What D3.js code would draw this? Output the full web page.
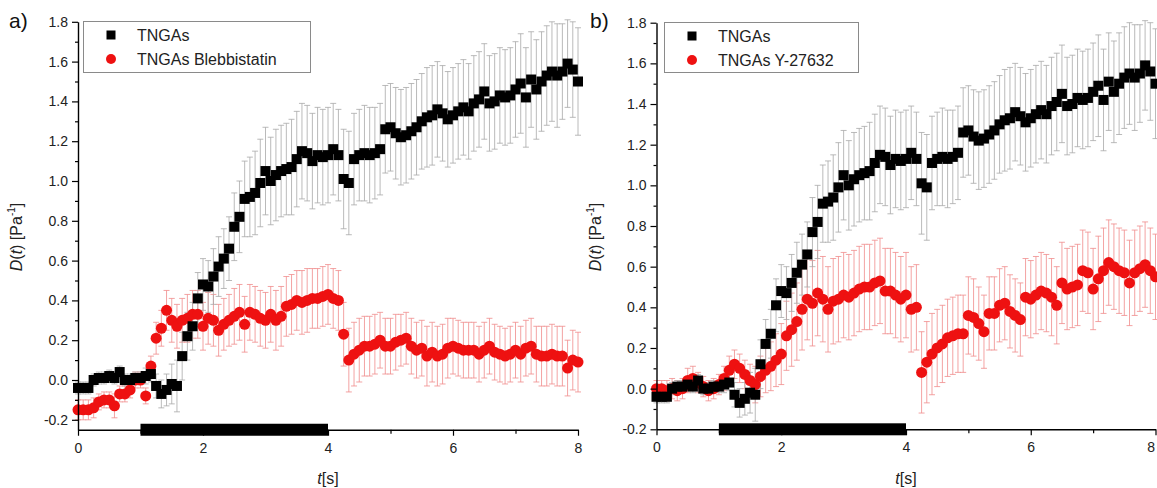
<!DOCTYPE html>
<html>
<head>
<meta charset="utf-8">
<script src="https://cdn.jsdelivr.net/npm/d3@7"></script>
<style>
  body { margin: 0; background: #fff; }
  svg { display: block; }
  text { font-family: "Liberation Sans", Arial, sans-serif; }
</style>
</head>
<body>
<svg id="chart" width="1157" height="488"></svg>
<script>
// Sampling interval of the recordings (s)
const frameStep = 1 / 12;

// Untreated TNGAs, D(t) [1/Pa] and standard error
const tngas = [
  -0.04, -0.04, -0.04, 0.00, 0.01, 0.01, 0.02, 0.01, 0.04, 0.00,
  0.00, 0.01, 0.01, 0.02, 0.03, -0.03, -0.07, -0.05, -0.02, -0.03,
  0.12, 0.22, 0.27, 0.41, 0.48, 0.47, 0.52, 0.57, 0.61, 0.66,
  0.77, 0.82, 0.91, 0.92, 0.94, 0.99, 1.05, 1.00, 1.03, 1.05,
  1.06, 1.07, 1.11, 1.15, 1.14, 1.10, 1.13, 1.12, 1.13, 1.16,
  1.13, 1.01, 0.99, 1.11, 1.13, 1.14, 1.13, 1.14, 1.16, 1.26,
  1.27, 1.24, 1.22, 1.23, 1.25, 1.27, 1.30, 1.32, 1.33, 1.36,
  1.34, 1.31, 1.33, 1.35, 1.37, 1.35, 1.39, 1.41, 1.45, 1.39,
  1.40, 1.43, 1.42, 1.43, 1.46, 1.49, 1.42, 1.51, 1.46, 1.50,
  1.53, 1.55, 1.53, 1.55, 1.59, 1.56, 1.50
];
const tngasErr = [
  0.03, 0.03, 0.03, 0.03, 0.03, 0.03, 0.03, 0.03, 0.03, 0.03,
  0.03, 0.03, 0.03, 0.04, 0.04, 0.06, 0.07, 0.08, 0.10, 0.13,
  0.12, 0.12, 0.12, 0.13, 0.13, 0.13, 0.14, 0.15, 0.15, 0.16,
  0.17, 0.18, 0.19, 0.20, 0.21, 0.22, 0.22, 0.22, 0.23, 0.23,
  0.23, 0.24, 0.24, 0.24, 0.24, 0.24, 0.24, 0.24, 0.24, 0.23,
  0.23, 0.25, 0.26, 0.23, 0.23, 0.24, 0.24, 0.23, 0.23, 0.22,
  0.22, 0.23, 0.24, 0.24, 0.24, 0.24, 0.24, 0.25, 0.25, 0.24,
  0.24, 0.24, 0.24, 0.24, 0.24, 0.24, 0.24, 0.24, 0.24, 0.24,
  0.24, 0.24, 0.24, 0.24, 0.24, 0.25, 0.25, 0.24, 0.25, 0.25,
  0.25, 0.25, 0.26, 0.24, 0.22, 0.24, 0.27
];

// TNGAs treated with Blebbistatin
const blebbistatin = [
  -0.15, -0.15, -0.15, -0.14, -0.11, -0.10, -0.10, -0.13, -0.07, -0.07,
  -0.05, 0.00, 0.00, -0.08, 0.07, 0.21, 0.26, 0.35, 0.30, 0.27,
  0.30, 0.31, 0.33, 0.33, 0.27, 0.31, 0.30, 0.25, 0.28, 0.30,
  0.32, 0.34, 0.28, 0.34, 0.33, 0.31, 0.30, 0.33, 0.30, 0.32,
  0.37, 0.38, 0.40, 0.39, 0.40, 0.41, 0.41, 0.42, 0.43, 0.41,
  0.40, 0.23, 0.10, 0.13, 0.15, 0.17, 0.17, 0.18, 0.20, 0.17,
  0.17, 0.19, 0.20, 0.21, 0.17, 0.15, 0.16, 0.12, 0.14, 0.12,
  0.13, 0.16, 0.17, 0.16, 0.15, 0.15, 0.15, 0.13, 0.15, 0.17,
  0.14, 0.13, 0.12, 0.13, 0.15, 0.13, 0.16, 0.17, 0.13, 0.12,
  0.12, 0.13, 0.12, 0.12, 0.06, 0.10, 0.09
];
const blebbistatinErr = [
  0.05, 0.05, 0.05, 0.05, 0.04, 0.04, 0.04, 0.06, 0.04, 0.04,
  0.04, 0.04, 0.04, 0.04, 0.05, 0.08, 0.09, 0.10, 0.11, 0.11,
  0.11, 0.12, 0.12, 0.12, 0.12, 0.13, 0.13, 0.13, 0.13, 0.13,
  0.14, 0.14, 0.14, 0.14, 0.14, 0.14, 0.14, 0.14, 0.15, 0.15,
  0.15, 0.15, 0.15, 0.16, 0.16, 0.15, 0.15, 0.15, 0.15, 0.15,
  0.15, 0.16, 0.16, 0.16, 0.16, 0.15, 0.15, 0.15, 0.14, 0.14,
  0.14, 0.14, 0.13, 0.13, 0.14, 0.14, 0.14, 0.15, 0.15, 0.15,
  0.15, 0.15, 0.14, 0.14, 0.14, 0.14, 0.14, 0.14, 0.14, 0.14,
  0.14, 0.14, 0.14, 0.14, 0.14, 0.14, 0.14, 0.14, 0.14, 0.15,
  0.15, 0.15, 0.15, 0.15, 0.14, 0.15, 0.15
];

// TNGAs treated with Y-27632
const y27632 = [
  0.00, 0.00, -0.01, 0.00, -0.01, 0.00, 0.04, 0.05, 0.03, 0.01,
  -0.01, 0.00, 0.02, 0.05, 0.09, 0.12, 0.10, 0.07, 0.04, 0.02,
  0.06, 0.09, 0.11, 0.14, 0.17, 0.26, 0.29, 0.33, 0.39, 0.44,
  0.42, 0.47, 0.44, 0.39, 0.43, 0.44, 0.46, 0.45, 0.47, 0.49,
  0.50, 0.50, 0.52, 0.53, 0.48, 0.48, 0.46, 0.44, 0.46, 0.39,
  0.40, 0.08, 0.13, 0.17, 0.20, 0.22, 0.25, 0.26, 0.27, 0.27,
  0.36, 0.35, 0.32, 0.28, 0.37, 0.37, 0.41, 0.42, 0.38, 0.36,
  0.34, 0.45, 0.44, 0.46, 0.48, 0.47, 0.45, 0.41, 0.52, 0.49,
  0.50, 0.51, 0.58, 0.57, 0.49, 0.54, 0.58, 0.62, 0.60, 0.58,
  0.57, 0.52, 0.57, 0.59, 0.61, 0.58, 0.55
];
const y27632Err = [
  0.04, 0.04, 0.05, 0.05, 0.05, 0.05, 0.06, 0.06, 0.05, 0.05,
  0.05, 0.05, 0.05, 0.06, 0.07, 0.07, 0.07, 0.07, 0.08, 0.09,
  0.10, 0.11, 0.12, 0.13, 0.15, 0.17, 0.18, 0.19, 0.20, 0.20,
  0.21, 0.21, 0.21, 0.21, 0.21, 0.21, 0.21, 0.21, 0.21, 0.21,
  0.21, 0.21, 0.21, 0.21, 0.21, 0.21, 0.21, 0.21, 0.21, 0.21,
  0.21, 0.20, 0.20, 0.20, 0.19, 0.19, 0.19, 0.19, 0.19, 0.19,
  0.19, 0.19, 0.18, 0.18, 0.18, 0.18, 0.18, 0.18, 0.18, 0.18,
  0.18, 0.19, 0.19, 0.19, 0.19, 0.19, 0.19, 0.19, 0.20, 0.20,
  0.20, 0.20, 0.20, 0.20, 0.20, 0.21, 0.21, 0.21, 0.21, 0.21,
  0.21, 0.21, 0.21, 0.21, 0.21, 0.21, 0.21
];

// Axis ticks and the stimulus interval (s)
const xTicks = [0, 2, 4, 6, 8];
const xMinorTicks = [1, 3, 5, 7];
const yTicks = [-0.2, 0, 0.2, 0.4, 0.6, 0.8, 1.0, 1.2, 1.4, 1.6, 1.8];
const yMinorTicks = [-0.1, 0.1, 0.3, 0.5, 0.7, 0.9, 1.1, 1.3, 1.5, 1.7];
const stimulus = [1, 4];

const svg = d3.select("#chart");
const timeOf = i => i * frameStep;

const panels = [
  {
    tag: "a)", tagX: 9,
    xRange: [78, 578], yRange: [429.75, 21.8], yDomain: [-0.25, 1.8],
    treated: blebbistatin, treatedErr: blebbistatinErr,
    legend: ["TNGAs", "TNGAs Blebbistatin"],
    legendBox: [83, 21, 227, 51]
  },
  {
    tag: "b)", tagX: 590,
    xRange: [656.5, 1155.5], yRange: [429.3, 22.7], yDomain: [-0.2, 1.8],
    treated: y27632, treatedErr: y27632Err,
    legend: ["TNGAs", "TNGAs Y-27632"],
    legendBox: [664, 22, 194, 50]
  }
];

const RED = "#ee1111";
const RED_BAR = "#f08c8c";
const GREY_BAR = "#a8a8a8";

function errorBars(g, x, y, values, errs, color) {
  g.append("g")
    .attr("fill", "none")
    .attr("stroke", color)
    .attr("stroke-width", 0.8)
    .selectAll("path")
    .data(values.map((v, i) => ({ t: timeOf(i), v, e: errs[i] })))
    .join("path")
    .attr("d", d => {
      const cx = x(d.t), yt = y(d.v + d.e), yb = y(d.v - d.e);
      return `M${cx},${yb}V${yt}M${cx - 3},${yt}h6M${cx - 3},${yb}h6`;
    });
}

panels.forEach(p => {
  const x = d3.scaleLinear([0, 8], p.xRange);
  const y = d3.scaleLinear(p.yDomain, p.yRange);
  const g = svg.append("g");

  // error bars
  errorBars(g, x, y, p.treated, p.treatedErr, RED_BAR);
  errorBars(g, x, y, tngas, tngasErr, GREY_BAR);

  // markers
  g.append("g").attr("fill", RED)
    .selectAll("circle")
    .data(p.treated)
    .join("circle")
    .attr("cx", (v, i) => x(timeOf(i)))
    .attr("cy", v => y(v))
    .attr("r", 5.5);

  g.append("g").attr("fill", "#000")
    .selectAll("rect")
    .data(tngas)
    .join("rect")
    .attr("x", (v, i) => x(timeOf(i)) - 5)
    .attr("y", v => y(v) - 5)
    .attr("width", 10)
    .attr("height", 10);

  // axes
  const fmtY = d => d.toFixed(1);
  g.append("g")
    .attr("transform", `translate(${p.xRange[0]},0)`)
    .call(d3.axisLeft(y).tickValues(yTicks).tickSize(6).tickSizeOuter(0).tickPadding(4).tickFormat(fmtY));
  g.append("g")
    .attr("transform", `translate(${p.xRange[0]},0)`)
    .call(d3.axisLeft(y).tickValues(yMinorTicks).tickSize(3).tickSizeOuter(0).tickFormat(""))
    .call(a => a.select(".domain").remove());

  g.append("g")
    .attr("transform", `translate(0,${p.yRange[0]})`)
    .call(d3.axisBottom(x).tickValues(xTicks).tickSize(6).tickSizeOuter(0).tickPadding(7).tickFormat(d3.format("d")))
    .call(a => a.selectAll(".tick text")
      .filter(d => x(d) > 1150)
      .attr("text-anchor", "end")
      .attr("dx", -1));
  g.append("g")
    .attr("transform", `translate(0,${p.yRange[0]})`)
    .call(d3.axisBottom(x).tickValues(xMinorTicks).tickSize(4).tickSizeOuter(0).tickFormat(""))
    .call(a => a.select(".domain").remove());

  g.selectAll(".domain").attr("stroke", "#000").attr("stroke-width", 1.4);
  g.selectAll(".tick line").attr("stroke", "#000").attr("stroke-width", 1.2);
  g.selectAll(".tick text").attr("font-size", 14).attr("fill", "#222")
    .attr("font-family", "'Liberation Sans', Arial, sans-serif");

  // stimulus bar on the time axis
  g.append("rect")
    .attr("x", x(stimulus[0]))
    .attr("y", p.yRange[0] - 6)
    .attr("width", x(stimulus[1]) - x(stimulus[0]))
    .attr("height", 12)
    .attr("fill", "#000");

  // axis titles
  const xt = g.append("text")
    .attr("x", (p.xRange[0] + p.xRange[1]) / 2)
    .attr("y", 484)
    .attr("text-anchor", "middle")
    .attr("font-size", 16)
    .attr("fill", "#222");
  xt.append("tspan").attr("font-style", "italic").text("t");
  xt.append("tspan").text("[s]");

  const yt = g.append("text")
    .attr("transform", `translate(${p.xRange[0] - 56},237) rotate(-90)`)
    .attr("text-anchor", "middle")
    .attr("font-size", 16)
    .attr("fill", "#222");
  yt.append("tspan").attr("font-style", "italic").text("D");
  yt.append("tspan").text("(");
  yt.append("tspan").attr("font-style", "italic").text("t");
  yt.append("tspan").text(") [Pa");
  yt.append("tspan").attr("font-size", 10).attr("dy", -7).text("-1");
  yt.append("tspan").attr("dy", 7).text("]");

  // panel tag
  g.append("text")
    .attr("x", p.tagX).attr("y", 28)
    .attr("font-size", 21)
    .attr("fill", "#111")
    .text(p.tag);

  // legend
  const [lx, ly, lw, lh] = p.legendBox;
  const lg = g.append("g");
  lg.append("rect")
    .attr("x", lx + 0.5).attr("y", ly + 0.5)
    .attr("width", lw).attr("height", lh)
    .attr("fill", "#fff").attr("stroke", "#8a8a8a").attr("stroke-width", 1);
  lg.append("rect")
    .attr("x", lx + 28 - 4.5).attr("y", ly + 14 - 4.5)
    .attr("width", 9).attr("height", 9).attr("fill", "#000");
  lg.append("circle")
    .attr("cx", lx + 28).attr("cy", ly + 38).attr("r", 5).attr("fill", RED);
  p.legend.forEach((label, k) => {
    lg.append("text")
      .attr("x", lx + 54)
      .attr("y", ly + 14 + k * 24)
      .attr("dy", "0.35em")
      .attr("font-size", 16)
      .attr("fill", "#222")
      .text(label);
  });
});
</script>
</body>
</html>
